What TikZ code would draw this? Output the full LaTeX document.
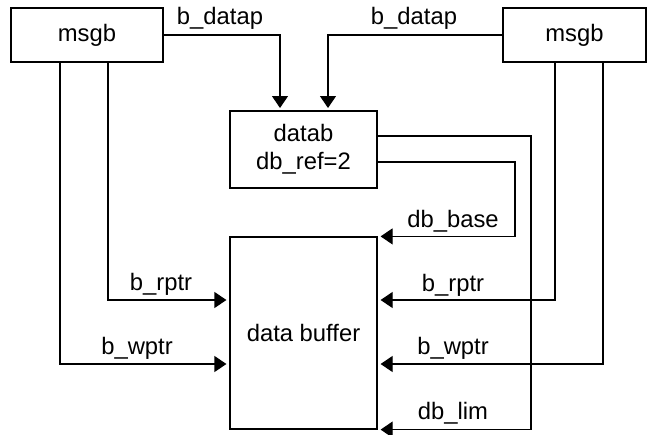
\documentclass[tikz,border=0pt]{standalone}
\usepackage{fontspec}
\setmainfont{Liberation Sans}
\usetikzlibrary{arrows.meta}

\begin{document}
\begin{tikzpicture}[x=0.5pt, y=-0.5pt,
    font=\fontsize{11.9}{14}\selectfont,
    box/.style={draw, rectangle, line width=0.6pt, inner sep=0pt, align=center},
    sig/.style={-{Triangle[length=6pt, width=8pt]}, line width=0.6pt, shorten >=1.5pt},
    lbl/.style={anchor=base, inner sep=0pt}]
    \useasboundingbox (0,0) rectangle (647,434);

    \node[box, minimum width=76pt, minimum height=27pt] (msgL) at (87,35) {msgb};
    \node[box, minimum width=71.5pt, minimum height=27pt] (msgR) at (574.5,35) {msgb};
    \node[box, minimum width=73.5pt, minimum height=38.5pt] (datab) at (303.5,149.5) {datab\\db\_ref=2};
    \node[box, minimum width=73.5pt, minimum height=96pt] (buf) at (303.5,333) {data buffer};

    % turning points of the connectors
    \coordinate (dpL) at (280,111);
    \coordinate (dpR) at (328,111);
    \coordinate (rL) at (108,300);
    \coordinate (wL) at (60,364);
    \coordinate (rR) at (555,300);
    \coordinate (wR) at (603,364);
    \coordinate (baseT) at (515,162);
    \coordinate (limT) at (531,136);

    \draw[sig] (msgL.east) -| (dpL);
    \draw[sig] (msgR.west) -| (dpR);
    \draw[sig] (msgL.south -| rL) |- (buf.west |- rL);
    \draw[sig] (msgL.south -| wL) |- (buf.west |- wL);
    \draw[sig] (msgR.south -| rR) |- (buf.east |- rR);
    \draw[sig] (msgR.south -| wR) |- (buf.east |- wR);
    \draw[sig] (datab.east |- baseT) -- (baseT) -- (buf.north east -| baseT) -- (buf.north east);
    \draw[sig] (datab.east |- limT) -- (limT) -- (buf.south east -| limT) -- (buf.south east);

    \node[lbl] (lDpL) at (220,24) {b\_datap};
    \node[lbl] (lDpR) at (414,24) {b\_datap};
    \node[lbl] (lRL) at (161,290) {b\_rptr};
    \node[lbl] (lWL) at (137,354) {b\_wptr};
    \node[lbl] (lBase) at (453,227) {db\_base};
    \node[lbl] (lRR) at (453,291) {b\_rptr};
    \node[lbl] (lWR) at (453,354) {b\_wptr};
    \node[lbl] (lLim) at (453,419) {db\_lim};
\end{tikzpicture}
\end{document}
